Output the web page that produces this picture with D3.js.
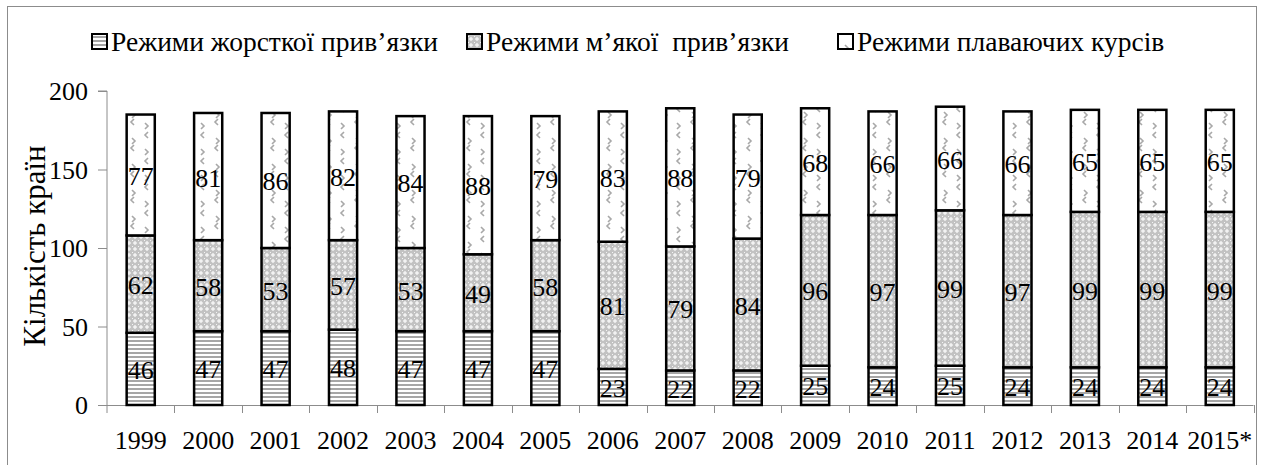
<!DOCTYPE html>
<html><head><meta charset="utf-8">
<script src="https://cdn.jsdelivr.net/npm/d3@7"></script>
<style>html,body{margin:0;padding:0;background:#fff;} svg{display:block;} svg text{font-family:"Liberation Serif","Times New Roman",serif;fill:#000;}</style>
</head><body>
<svg id="c" width="1262" height="465"></svg>
<script>
const years = ["1999","2000","2001","2002","2003","2004","2005","2006","2007","2008","2009","2010","2011","2012","2013","2014","2015*"];
const hardPeg = [46,47,47,48,47,47,47,23,22,22,25,24,25,24,24,24,24];
const softPeg = [62,58,53,57,53,49,58,81,79,84,96,97,99,97,99,99,99];
const floating = [77,81,86,82,84,88,79,83,88,79,68,66,66,66,65,65,65];
const seriesNames = ["Режими жорсткої прив’язки","Режими м’якої  прив’язки","Режими плаваючих курсів"];
const yTicks = [0,50,100,150,200];

(function(){
const svg = d3.select("#c");
const defs = svg.append("defs");

const p1 = defs.append("pattern").attr("id","pHard").attr("patternUnits","userSpaceOnUse").attr("width",6).attr("height",4);
p1.append("rect").attr("width",6).attr("height",4).attr("fill","#fff");
p1.append("rect").attr("width",6).attr("height",2).attr("fill","#a6a6a6");
const p2 = defs.append("pattern").attr("id","pSoft").attr("patternUnits","userSpaceOnUse").attr("width",6).attr("height",6);
p2.append("rect").attr("width",6).attr("height",6).attr("fill","#c2c2c2");
p2.append("path").attr("d","M3,0.8 L5.2,3 L3,5.2 L0.8,3Z").attr("fill","#f2f2f2");
p2.append("rect").attr("x",0).attr("y",0).attr("width",1).attr("height",1).attr("fill","#f4f4f4");
const p3 = defs.append("pattern").attr("id","pFloat").attr("patternUnits","userSpaceOnUse").attr("width",28).attr("height",26);
p3.append("rect").attr("width",28).attr("height",26).attr("fill","#fff");
const mk = (d)=>p3.append("path").attr("d",d).attr("fill","none").attr("stroke","#a8a8a8").attr("stroke-width",1.6);
mk("M8,2 L5,5 L8,8"); mk("M20,8 L23,11 L20,14"); mk("M22,15 L19,18 L22,21"); mk("M5,19 L8,22 L5,25");
const fills = ["url(#pHard)","url(#pSoft)","url(#pFloat)"];

svg.append("rect").attr("x",7.5).attr("y",6.5).attr("width",1249).attr("height",470)
  .attr("fill","none").attr("stroke","#8c8c8c").attr("stroke-width",1);

const pl = 107, pr = 1253.5, pt = 91, pb = 405;
const x = d3.scaleBand().domain(years).range([pl,pr]).paddingInner(0.583).paddingOuter(0.2915);
const xb = d3.scaleBand().domain(years).range([pl,pr]).padding(0);
const y = d3.scaleLinear().domain([0,200]).range([pb,pt]);

const data = years.map((yr,i)=>({year:yr, hard:hardPeg[i], soft:softPeg[i], flt:floating[i]}));
const stack = d3.stack().keys(["hard","soft","flt"])(data);

const ax = svg.append("g").attr("transform",`translate(${pl},0)`)
  .call(d3.axisLeft(y).tickValues(yTicks).tickSize(9).tickPadding(10));
ax.select(".domain").attr("stroke","#8c8c8c").attr("d",`M-9,${y(200)}H0V${pb+8}`);
ax.selectAll(".tick line").attr("stroke","#8c8c8c");
ax.selectAll(".tick text").attr("font-family",null).attr("font-size",26).attr("dy","0.34em");

const xg = svg.append("g");
xg.append("line").attr("x1",pl).attr("x2",pr).attr("y1",pb+0.5).attr("y2",pb+0.5).attr("stroke","#8c8c8c");
years.forEach((yr)=>{
  const bx = Math.round(xb(yr)+xb.bandwidth())+0.5;
  xg.append("line").attr("x1",bx).attr("x2",bx).attr("y1",pb).attr("y2",pb+8).attr("stroke","#8c8c8c");
  xg.append("text").attr("x",xb(yr)+xb.bandwidth()/2).attr("y",449).attr("text-anchor","middle")
    .attr("font-size",26).text(yr);
});

stack.forEach((s,k)=>{
  svg.append("g").selectAll("rect").data(s).join("rect")
    .attr("x",d=>x(d.data.year)).attr("width",x.bandwidth())
    .attr("y",d=>y(d[1])).attr("height",d=>y(d[0])-y(d[1]))
    .attr("fill",fills[k]).attr("stroke","#000").attr("stroke-width",2.5);
});
stack.forEach((s,k)=>{
  svg.append("g").selectAll("text").data(s).join("text")
    .attr("x",d=>x(d.data.year)+x.bandwidth()/2)
    .attr("y",d=>(y(d[0])+y(d[1]))/2+10)
    .attr("text-anchor","middle").attr("font-size",26)
    .text(d=>d[1]-d[0]);
});

svg.append("text").attr("transform","translate(45,246) rotate(-90)").attr("text-anchor","middle")
  .attr("font-size",31).text("Кількість країн");

const legendX = [92, 467, 838];
const lg = svg.append("g");
seriesNames.forEach((n,k)=>{
  lg.append("rect").attr("x",legendX[k]).attr("y",34).attr("width",15).attr("height",15)
    .attr("fill",fills[k]).attr("stroke","#000").attr("stroke-width",2);
  lg.append("text").attr("x",legendX[k]+19).attr("y",51).attr("font-size",27.5)
    .style("white-space","pre").text(n);
});
})();
</script>
</body></html>
